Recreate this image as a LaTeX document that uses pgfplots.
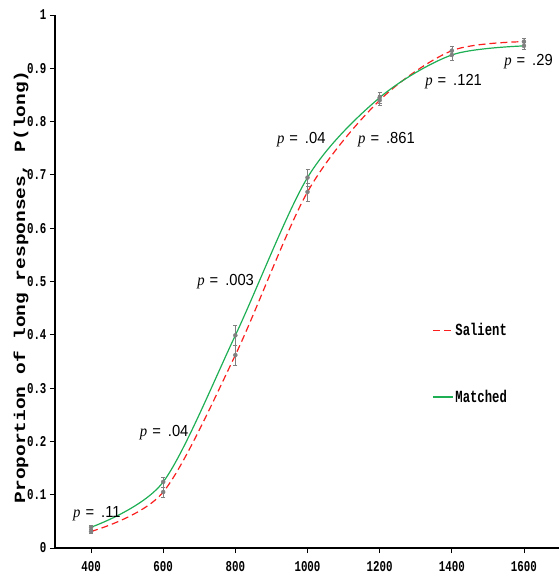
\documentclass[border=0pt]{standalone}
\usepackage{fontspec}
\usepackage{graphicx}
\usepackage{pgfplots}
\pgfplotsset{compat=1.18}
\setmainfont{Liberation Mono}
\newfontfamily\tickfont[FakeStretch=0.72]{Liberation Mono}
\newfontfamily\labfont{Liberation Mono}
\newfontfamily\pnum[FakeStretch=0.92]{Liberation Sans}
\newfontfamily\pit[FakeStretch=0.92]{Liberation Serif}
\definecolor{matchgreen}{RGB}{30,175,85}
\definecolor{salred}{RGB}{250,30,30}
\newcommand{\plab}[1]{{\fontsize{16}{16}\pit\itshape p\hspace{5pt}\pnum\upshape=\hspace{7pt}#1}}

\begin{document}
\begin{tikzpicture}
\useasboundingbox (-55pt,-33pt) rectangle (504pt,548pt);
\begin{axis}[
  at={(0,0)}, anchor=south west,
  scale only axis, width=505pt, height=533pt,
  xmin=300, xmax=1700, ymin=0, ymax=1,
  axis lines=left,
  axis line style={-, line width=1.2pt},
  clip=false,
  xtick={400,600,800,1000,1200,1400,1600},
  ytick={0,0.1,0.2,0.3,0.4,0.5,0.6,0.7,0.8,0.9,1},
  yticklabels={0,0.1,0.2,0.3,0.4,0.5,0.6,0.7,0.8,0.9,1},
  tick align=outside,
  major tick length=5pt,
  tick style={black, line width=0.8pt},
  tick label style={font=\fontsize{15}{15}\tickfont\bfseries},
  x tick label style={yshift=-5pt},
  /pgf/number format/.cd, 1000 sep={}, assume math mode=true,
  /pgfplots/.cd,
  ylabel={\scalebox{1}[0.8]{Proportion of long responses, P(long)}},
  ylabel style={font=\fontsize{19.5}{19.5}\labfont\bfseries, at={(axis description cs:-0.0673,0.49)}, anchor=center},
  legend style={draw=none, fill=none, at={(axis cs:1337,0.346)}, anchor=west,
    row sep=53pt, font=\fontsize{17}{17}\tickfont\bfseries,
    nodes={inner ysep=0pt, inner xsep=2pt}},
  legend cell align=left,
  legend image code/.code={\draw[#1] (0pt,0pt) -- (20pt,0pt);},
]
\addlegendimage{salred, line width=1.2pt, dash pattern=on 7pt off 4pt}
\addlegendentry{Salient}
\addlegendimage{matchgreen, line width=1.2pt}
\addlegendentry{Matched}

\addplot[forget plot, salred, line width=1.2pt, dash pattern=on 7pt off 4pt, smooth] coordinates {
  (400,0.031) (600,0.105) (800,0.362) (1000,0.668) (1200,0.840) (1400,0.933) (1600,0.950)};
\addplot[forget plot, matchgreen, line width=1.2pt, smooth] coordinates {
  (400,0.039) (600,0.124) (800,0.399) (1000,0.695) (1200,0.845) (1400,0.925) (1600,0.942)};

\addplot[forget plot, only marks, mark=none, gray,
  error bars/.cd, y dir=both, y explicit,
  error bar style={gray, solid, line width=0.5pt},
  error mark options={rotate=90, mark size=2pt, gray, solid, line width=0.5pt}] coordinates {
  (400,0.031) +- (0,0.004)
  (600,0.105) +- (0,0.0095)
  (800,0.362) +- (0,0.019)
  (1000,0.668) +- (0,0.017)
  (1200,0.840) +- (0,0.010)
  (1400,0.933) +- (0,0.008)
  (1600,0.950) +- (0,0.007)};
\addplot[forget plot, only marks, mark=none, gray,
  error bars/.cd, y dir=both, y explicit,
  error bar style={gray, solid, line width=0.5pt},
  error mark options={rotate=90, mark size=2pt, gray, solid, line width=0.5pt}] coordinates {
  (400,0.039) +- (0,0.004)
  (600,0.124) +- (0,0.0095)
  (800,0.399) +- (0,0.018)
  (1000,0.695) +- (0,0.016)
  (1200,0.845) +- (0,0.010)
  (1400,0.925) +- (0,0.009)
  (1600,0.942) +- (0,0.006)};

\node[anchor=base west, inner sep=0pt] at (axis cs:350,0.0563) {\plab{.11}};
\node[anchor=base west, inner sep=0pt] at (axis cs:535,0.210) {\plab{.04}};
\node[anchor=base west, inner sep=0pt] at (axis cs:694,0.4934) {\plab{.003}};
\node[anchor=base west, inner sep=0pt] at (axis cs:915,0.758) {\plab{.04}};
\node[anchor=base west, inner sep=0pt] at (axis cs:1140,0.758) {\plab{.861}};
\node[anchor=base west, inner sep=0pt] at (axis cs:1326,0.8668) {\plab{.121}};
\node[anchor=base west, inner sep=0pt] at (axis cs:1545,0.905) {\plab{.29}};
\end{axis}
\end{tikzpicture}
\end{document}
